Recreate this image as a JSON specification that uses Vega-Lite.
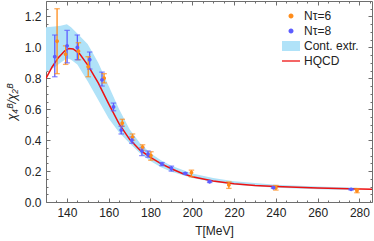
{
  "$schema": "https://vega.github.io/schema/vega-lite/v6.json",
  "width": 326,
  "height": 201,
  "autosize": {"type": "none"},
  "padding": {"left": 46, "top": 1, "right": 2, "bottom": 39},
  "config": {
    "view": {"stroke": "#6e6e6e", "strokeWidth": 1},
    "font": "Liberation Sans",
    "axis": {"domain": false, "grid": false, "labelFont": "Liberation Sans", "labelFontSize": 12, "labelColor": "#222", "tickColor": "#6e6e6e", "tickWidth": 1, "titleFont": "Liberation Sans", "titleFontSize": 12, "titleFontWeight": "normal", "titleColor": "#222"},
    "legend": {"labelFont": "Liberation Sans", "labelFontSize": 12, "labelColor": "#222"}
  },
  "datasets": {
    "band": [
      {"T": 130, "lo": 0.84, "hi": 1.13},
      {"T": 134, "lo": 0.87, "hi": 1.135},
      {"T": 137, "lo": 0.90, "hi": 1.14},
      {"T": 140, "lo": 0.93, "hi": 1.15},
      {"T": 142, "lo": 0.92, "hi": 1.13},
      {"T": 145, "lo": 0.89, "hi": 1.09},
      {"T": 150, "lo": 0.78, "hi": 1.02},
      {"T": 155, "lo": 0.66, "hi": 0.90},
      {"T": 160, "lo": 0.54, "hi": 0.75},
      {"T": 165, "lo": 0.45, "hi": 0.60},
      {"T": 170, "lo": 0.38, "hi": 0.47},
      {"T": 175, "lo": 0.315, "hi": 0.38},
      {"T": 180, "lo": 0.265, "hi": 0.315},
      {"T": 185, "lo": 0.225, "hi": 0.27},
      {"T": 190, "lo": 0.195, "hi": 0.235},
      {"T": 200, "lo": 0.155, "hi": 0.185},
      {"T": 210, "lo": 0.13, "hi": 0.155},
      {"T": 220, "lo": 0.112, "hi": 0.135},
      {"T": 240, "lo": 0.092, "hi": 0.112},
      {"T": 260, "lo": 0.082, "hi": 0.1},
      {"T": 279, "lo": 0.076, "hi": 0.092}
    ],
    "hqcd": [
      {"T": 130, "v": 0.80},
      {"T": 133, "v": 0.875},
      {"T": 136, "v": 0.935},
      {"T": 139, "v": 0.978},
      {"T": 141, "v": 0.993},
      {"T": 143, "v": 0.99},
      {"T": 146, "v": 0.96},
      {"T": 150, "v": 0.885},
      {"T": 155, "v": 0.77},
      {"T": 160, "v": 0.635},
      {"T": 165, "v": 0.505},
      {"T": 170, "v": 0.405},
      {"T": 175, "v": 0.335},
      {"T": 180, "v": 0.288},
      {"T": 185, "v": 0.248},
      {"T": 190, "v": 0.215},
      {"T": 195, "v": 0.186},
      {"T": 200, "v": 0.163},
      {"T": 210, "v": 0.136},
      {"T": 220, "v": 0.118},
      {"T": 230, "v": 0.107},
      {"T": 240, "v": 0.1},
      {"T": 250, "v": 0.095},
      {"T": 260, "v": 0.091},
      {"T": 270, "v": 0.087},
      {"T": 286, "v": 0.083}
    ],
    "pts": [
      {"series": "Nτ=6", "T": 135.3, "v": 1.04, "lo": 0.83, "hi": 1.25},
      {"series": "Nτ=6", "T": 139.4, "v": 0.955, "lo": 0.89, "hi": 1.01},
      {"series": "Nτ=6", "T": 145.5, "v": 0.975, "lo": 0.92, "hi": 1.03},
      {"series": "Nτ=6", "T": 150.2, "v": 0.875, "lo": 0.81, "hi": 0.94},
      {"series": "Nτ=6", "T": 157.8, "v": 0.8, "lo": 0.77, "hi": 0.83},
      {"series": "Nτ=6", "T": 166.5, "v": 0.51, "lo": 0.49, "hi": 0.535},
      {"series": "Nτ=6", "T": 171.4, "v": 0.42, "lo": 0.4, "hi": 0.44},
      {"series": "Nτ=6", "T": 176.2, "v": 0.355, "lo": 0.335, "hi": 0.37},
      {"series": "Nτ=6", "T": 180.2, "v": 0.3, "lo": 0.27, "hi": 0.325},
      {"series": "Nτ=6", "T": 199.6, "v": 0.19, "lo": 0.163, "hi": 0.206},
      {"series": "Nτ=6", "T": 217.5, "v": 0.11, "lo": 0.088, "hi": 0.13},
      {"series": "Nτ=6", "T": 240, "v": 0.092, "lo": 0.077, "hi": 0.107},
      {"series": "Nτ=6", "T": 278.8, "v": 0.073, "lo": 0.06, "hi": 0.087},
      {"series": "Nτ=8", "T": 134.2, "v": 0.94, "lo": 0.81, "hi": 1.08},
      {"series": "Nτ=8", "T": 140.1, "v": 1.01, "lo": 0.9, "hi": 1.11},
      {"series": "Nτ=8", "T": 145, "v": 1.0, "lo": 0.92, "hi": 1.08},
      {"series": "Nτ=8", "T": 150.9, "v": 0.92, "lo": 0.86, "hi": 0.97},
      {"series": "Nτ=8", "T": 156.8, "v": 0.79, "lo": 0.75, "hi": 0.84},
      {"series": "Nτ=8", "T": 162.3, "v": 0.615, "lo": 0.59, "hi": 0.64},
      {"series": "Nτ=8", "T": 166, "v": 0.465, "lo": 0.44, "hi": 0.49},
      {"series": "Nτ=8", "T": 171.1, "v": 0.4, "lo": 0.38, "hi": 0.42},
      {"series": "Nτ=8", "T": 175.9, "v": 0.33, "lo": 0.3, "hi": 0.35},
      {"series": "Nτ=8", "T": 178.8, "v": 0.31, "lo": 0.29, "hi": 0.33},
      {"series": "Nτ=8", "T": 185.5, "v": 0.245, "lo": 0.235, "hi": 0.255},
      {"series": "Nτ=8", "T": 190, "v": 0.217, "lo": 0.2, "hi": 0.232},
      {"series": "Nτ=8", "T": 196.6, "v": 0.185, "lo": 0.18, "hi": 0.19},
      {"series": "Nτ=8", "T": 208.3, "v": 0.131, "lo": 0.126, "hi": 0.136},
      {"series": "Nτ=8", "T": 238.9, "v": 0.092, "lo": 0.088, "hi": 0.096},
      {"series": "Nτ=8", "T": 276, "v": 0.082, "lo": 0.078, "hi": 0.086}
    ]
  },
  "resolve": {"axis": {"x": "independent", "y": "independent"}},
  "layer": [
    {
      "data": {"name": "band"},
      "mark": {"type": "area", "color": "#b0e2f8", "opacity": 1, "clip": true},
      "encoding": {
        "x": {"field": "T", "type": "quantitative", "scale": {"domain": [130, 286], "nice": false, "zero": false},
          "axis": {"orient": "bottom", "values": [140, 160, 180, 200, 220, 240, 260, 280], "tickSize": -4, "labelPadding": 9, "title": "T[MeV]", "titlePadding": 7, "titleX": 168, "titleAlign": "center"}},
        "y": {"field": "lo", "type": "quantitative", "scale": {"domain": [0, 1.3], "nice": false},
          "axis": {"orient": "left", "values": [0, 0.2, 0.4, 0.6, 0.8, 1.0, 1.2], "format": ".1f", "tickSize": -4, "labelPadding": 9, "title": "χ₄ᴮ/χ₂ᴮ", "titleFontStyle": "italic", "titlePadding": 6}},
        "y2": {"field": "hi"}
      }
    },
    {
      "data": {"name": "hqcd"},
      "mark": {"type": "line", "color": "#ee1111", "strokeWidth": 1.5, "clip": true},
      "encoding": {
        "x": {"field": "T", "type": "quantitative",
          "axis": {"orient": "bottom", "values": [130, 135, 145, 150, 155, 165, 170, 175, 185, 190, 195, 205, 210, 215, 225, 230, 235, 245, 250, 255, 265, 270, 275, 285], "tickSize": -2, "labels": false, "title": null}},
        "y": {"field": "v", "type": "quantitative",
          "axis": {"orient": "left", "values": [0.05, 0.1, 0.15, 0.25, 0.3, 0.35, 0.45, 0.5, 0.55, 0.65, 0.7, 0.75, 0.85, 0.9, 0.95, 1.05, 1.1, 1.15, 1.25], "tickSize": -2, "labels": false, "title": null}}
      }
    },
    {
      "data": {"name": "pts"},
      "mark": {"type": "rule", "strokeWidth": 1.3},
      "encoding": {
        "x": {"field": "T", "type": "quantitative",
          "axis": {"orient": "top", "values": [140, 160, 180, 200, 220, 240, 260, 280], "tickSize": -4, "labels": false, "title": null}},
        "y": {"field": "lo", "type": "quantitative",
          "axis": {"orient": "right", "values": [0, 0.2, 0.4, 0.6, 0.8, 1.0, 1.2], "tickSize": -4, "labels": false, "title": null}},
        "y2": {"field": "hi"},
        "stroke": {"field": "series", "type": "nominal", "scale": {"domain": ["Nτ=6", "Nτ=8"], "range": ["#ff8c1a", "#5c5cff"]}, "legend": null}
      }
    },
    {
      "data": {"name": "pts"},
      "mark": {"type": "point", "shape": "M-1,0H1", "filled": false, "size": 30, "strokeWidth": 1.3},
      "encoding": {
        "x": {"field": "T", "type": "quantitative",
          "axis": {"orient": "top", "values": [130, 135, 145, 150, 155, 165, 170, 175, 185, 190, 195, 205, 210, 215, 225, 230, 235, 245, 250, 255, 265, 270, 275, 285], "tickSize": -2, "labels": false, "title": null}},
        "y": {"field": "lo", "type": "quantitative",
          "axis": {"orient": "right", "values": [0.05, 0.1, 0.15, 0.25, 0.3, 0.35, 0.45, 0.5, 0.55, 0.65, 0.7, 0.75, 0.85, 0.9, 0.95, 1.05, 1.1, 1.15, 1.25], "tickSize": -2, "labels": false, "title": null}},
        "stroke": {"field": "series", "type": "nominal", "scale": {"domain": ["Nτ=6", "Nτ=8"], "range": ["#ff8c1a", "#5c5cff"]}, "legend": null}
      }
    },
    {
      "data": {"name": "pts"},
      "mark": {"type": "point", "shape": "M-1,0H1", "filled": false, "size": 30, "strokeWidth": 1.3},
      "encoding": {
        "x": {"field": "T", "type": "quantitative", "axis": null},
        "y": {"field": "hi", "type": "quantitative", "axis": null},
        "stroke": {"field": "series", "type": "nominal", "scale": {"domain": ["Nτ=6", "Nτ=8"], "range": ["#ff8c1a", "#5c5cff"]}, "legend": null}
      }
    },
    {
      "data": {"name": "pts"},
      "mark": {"type": "point", "filled": true, "size": 60, "opacity": 1},
      "encoding": {
        "x": {"field": "T", "type": "quantitative", "axis": null},
        "y": {"field": "v", "type": "quantitative", "axis": null},
        "color": {"field": "series", "type": "nominal",
          "scale": {"domain": ["Nτ=6", "Nτ=8", "Cont. extr.", "HQCD"], "range": ["#ff8c1a", "#5c5cff", "#b0e2f8", "#ee1111"]},
          "legend": {"orient": "none", "legendX": 239, "legendY": 9, "title": null, "symbolSize": 100, "labelOffset": 7, "rowPadding": 3, "padding": 0, "symbolStrokeWidth": 0, "symbolOpacity": 1}},
        "shape": {"field": "series", "type": "nominal",
          "scale": {"domain": ["Nτ=6", "Nτ=8", "Cont. extr.", "HQCD"], "range": ["M-0.5,0A0.5,0.5 0 1,0 0.5,0A0.5,0.5 0 1,0 -0.5,0Z", "M-0.5,0A0.5,0.5 0 1,0 0.5,0A0.5,0.5 0 1,0 -0.5,0Z", "M-1.8,-1H1.8V1H-1.8Z", "M-1.8,-0.13H1.8V0.13H-1.8Z"]},
          "legend": {"orient": "none", "legendX": 239, "legendY": 9, "title": null, "symbolSize": 100, "labelOffset": 7, "rowPadding": 3, "padding": 0, "symbolStrokeWidth": 0, "symbolOpacity": 1}}
      }
    }
  ]
}
